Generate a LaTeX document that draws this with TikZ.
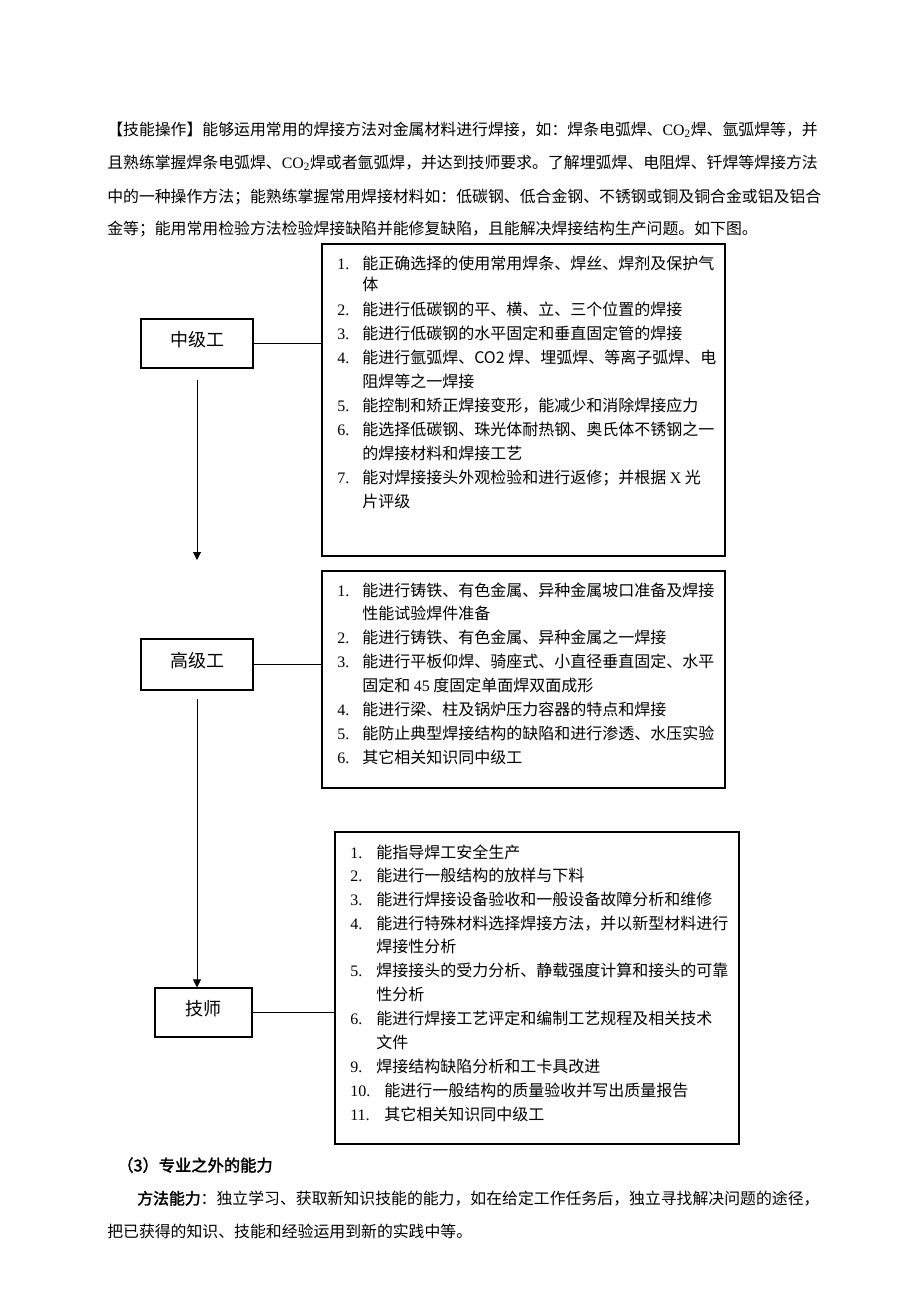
\documentclass[tikz,border=0pt]{standalone}
\usepackage{fontspec}
\setmainfont{Liberation Serif}
\newfontfamily\cjk{Noto Sans CJK SC}
\newfontfamily\cjkb[FakeBold=2]{Noto Sans CJK SC}
\usetikzlibrary{arrows.meta}
\newcommand\lnum[2][18.75pt]{\makebox[#1][l]{\rmfamily #2}}
\begin{document}
\begin{tikzpicture}[x=0.75pt,y=-0.75pt,
  lvl/.style={draw, line width=0.8pt, font=\cjk\fontsize{13.5}{16}\selectfont, text height=8pt, text depth=3.8pt, inner sep=0pt},
  panel/.style={draw, line width=0.8pt, inner sep=0pt},
  ln/.style={anchor=west, inner sep=0pt, text height=10pt, text depth=2pt, font=\cjk\fontsize{12}{14}\selectfont},
  para/.style={anchor=west, inner sep=0pt, text height=10pt, text depth=2pt, font=\cjk\fontsize{11.9}{14}\selectfont},
  conn/.style={line width=0.75pt},
  arr/.style={line width=0.75pt, -{Triangle[length=6pt,width=6pt]}}]
\useasboundingbox (0,0) rectangle (920,1302);

% paragraph
\node[para] (p1) at (107,130) {【技能操作】能够运用常用的焊接方法对金属材料进行焊接，如：焊条电弧焊、{\rmfamily CO\textsubscript{2}}焊、氩弧焊等，并};
\node[para] (p2) at (107,163) {且熟练掌握焊条电弧焊、{\rmfamily CO\textsubscript{2}}焊或者氩弧焊，并达到技师要求。了解埋弧焊、电阻焊、钎焊等焊接方法};
\node[para] (p3) at (107,197) {中的一种操作方法；能熟练掌握常用焊接材料如：低碳钢、低合金钢、不锈钢或铜及铜合金或铝及铝合};
\node[para] (p4) at (107,229) {金等；能用常用检验方法检验焊接缺陷并能修复缺陷，且能解决焊接结构生产问题。如下图。};

% level boxes
\node[lvl, minimum width=84pt, minimum height=36.75pt] (zj) at (197,343.5) {中级工};
\node[lvl, minimum width=84pt, minimum height=38.25pt] (gj) at (197,664.5) {高级工};
\node[lvl, minimum width=72.75pt, minimum height=36.75pt] (js) at (203.5,1012.5) {技师};

% panels
\node[panel, minimum width=302.25pt, minimum height=234pt] (b1) at (523.5,400) {};
\node[panel, minimum width=302.25pt, minimum height=162.75pt] (b2) at (523.5,679.5) {};
\node[panel, minimum width=303pt, minimum height=234pt] (b3) at (537,988) {};

% connectors
\draw[conn] (zj.east) -- (zj.east -| b1.west);
\draw[conn] (gj.east) -- (gj.east -| b2.west);
\draw[conn] (js.east) -- (js.east -| b3.west);
\coordinate (a1s) at (197,380);
\coordinate (a1e) at (197,560);
\draw[arr] (a1s) -- (a1e);
\coordinate (a2s) at (197,699);
\draw[arr] (a2s) -- (a2s |- js.north);

% panel 1 text
\foreach \x/\y/\t [count=\i] in {
  337/264/{\lnum{1.}能正确选择的使用常用焊条、焊丝、焊剂及保护气},
  362/285/{体},
  337/310/{\lnum{2.}能进行低碳钢的平、横、立、三个位置的焊接},
  337/334/{\lnum{3.}能进行低碳钢的水平固定和垂直固定管的焊接},
  337/358/{\lnum{4.}能进行氩弧焊、CO2 焊、埋弧焊、等离子弧焊、电},
  362/382/{阻焊等之一焊接},
  337/406/{\lnum{5.}能控制和矫正焊接变形，能减少和消除焊接应力},
  337/430/{\lnum{6.}能选择低碳钢、珠光体耐热钢、奥氏体不锈钢之一},
  362/454/{的焊接材料和焊接工艺},
  337/478/{\lnum{7.}能对焊接接头外观检验和进行返修；并根据 {\rmfamily X} 光},
  362/502/{片评级}}
  \node[ln] (ta\i) at (\x,\y) {\t};

% panel 2 text
\foreach \x/\y/\t [count=\i] in {
  337/591/{\lnum{1.}能进行铸铁、有色金属、异种金属坡口准备及焊接},
  362/614/{性能试验焊件准备},
  337/638/{\lnum{2.}能进行铸铁、有色金属、异种金属之一焊接},
  337/662/{\lnum{3.}能进行平板仰焊、骑座式、小直径垂直固定、水平},
  362/686/{固定和 {\rmfamily 45} 度固定单面焊双面成形},
  337/710/{\lnum{4.}能进行梁、柱及锅炉压力容器的特点和焊接},
  337/734/{\lnum{5.}能防止典型焊接结构的缺陷和进行渗透、水压实验},
  337/758/{\lnum{6.}其它相关知识同中级工}}
  \node[ln] (tb\i) at (\x,\y) {\t};

% panel 3 text
\foreach \x/\y/\t [count=\i] in {
  350/853/{\lnum[19.5pt]{1.}能指导焊工安全生产},
  350/876/{\lnum[19.5pt]{2.}能进行一般结构的放样与下料},
  350/900/{\lnum[19.5pt]{3.}能进行焊接设备验收和一般设备故障分析和维修},
  350/924/{\lnum[19.5pt]{4.}能进行特殊材料选择焊接方法，并以新型材料进行},
  376/947/{焊接性分析},
  350/971/{\lnum[19.5pt]{5.}焊接接头的受力分析、静载强度计算和接头的可靠},
  376/995/{性分析},
  350/1019/{\lnum[19.5pt]{6.}能进行焊接工艺评定和编制工艺规程及相关技术},
  376/1043/{文件},
  350/1067/{\lnum[19.5pt]{9.}焊接结构缺陷分析和工卡具改进},
  350/1091/{\lnum[25.5pt]{10.}能进行一般结构的质量验收并写出质量报告},
  350/1115/{\lnum[25.5pt]{11.}其它相关知识同中级工}}
  \node[ln] (tc\i) at (\x,\y) {\t};

% bottom text
\node[para, font=\cjkb\fontsize{12.2}{14}\selectfont] (h3) at (117,1166) {（3）专业之外的能力};
\node[para] (q1) at (137,1199) {{\cjkb 方法能力}：独立学习、获取新知识技能的能力，如在给定工作任务后，独立寻找解决问题的途径，};
\node[para] (q2) at (107,1232) {把已获得的知识、技能和经验运用到新的实践中等。};
\end{tikzpicture}
\end{document}
